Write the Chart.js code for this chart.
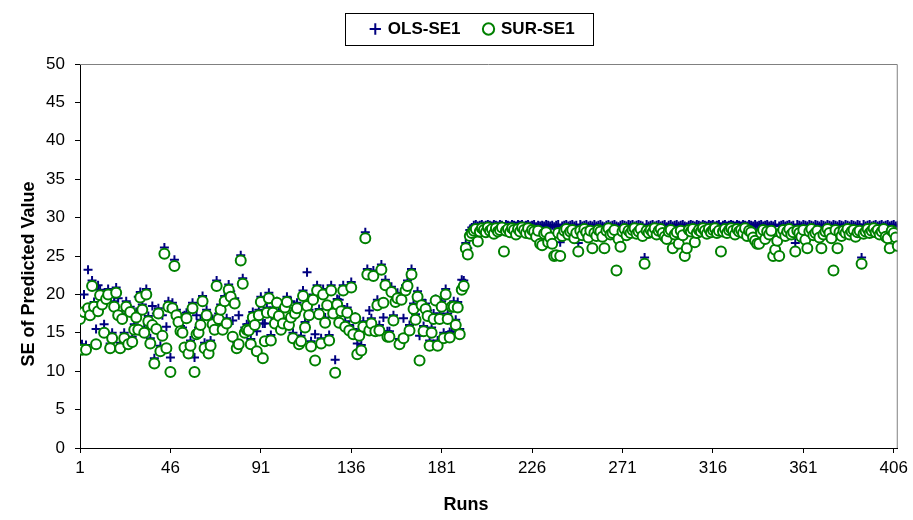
<!DOCTYPE html>
<html>
<head>
<meta charset="utf-8">
<script src="https://cdn.jsdelivr.net/npm/chart.js@4.4.0/dist/chart.umd.min.js"></script>
<style>
  html, body { margin: 0; padding: 0; background: #fff; }
  #wrap { width: 913px; height: 520px; }
</style>
</head>
<body>
<div id="wrap"><canvas id="seChart"></canvas></div>
<script>
const seriesNames = ['OLS-SE1', 'SUR-SE1'];
const runTicks = [1, 46, 91, 136, 181, 226, 271, 316, 361, 406];
const valueTicks = [0, 5, 10, 15, 20, 25, 30, 35, 40, 45, 50];
const xTitle = 'Runs';
const yTitle = 'SE of Predicted Value';

// SE per run, runs 1..408
const olsSE = [
  17.5, 13.5, 20.0, 13.4, 23.2, 18.0, 21.8, 19.0, 15.5, 21.2,
  20.6, 19.4, 16.1, 20.1, 20.7, 13.6, 15.0, 19.1, 20.9, 19.5,
  13.7, 17.5, 15.0, 19.1, 14.2, 18.4, 14.5, 16.1, 17.7, 19.7,
  20.3, 18.7, 15.7, 20.7, 17.2, 14.3, 18.5, 11.7, 17.5, 18.2,
  13.3, 17.3, 26.1, 15.8, 19.1, 11.8, 18.9, 24.5, 18.0, 17.1,
  15.9, 15.7, 17.3, 17.6, 13.0, 14.0, 18.9, 11.8, 17.3, 15.7,
  16.7, 19.8, 13.7, 18.0, 13.0, 14.0, 16.8, 16.1, 21.8, 17.5,
  18.7, 16.1, 19.8, 16.9, 21.3, 20.4, 16.6, 19.5, 13.7, 17.3,
  25.1, 22.1, 15.7, 16.1, 16.0, 14.2, 17.7, 16.7, 15.2, 18.0,
  19.7, 16.2, 16.2, 18.3, 20.2, 14.7, 18.3, 16.9, 19.1, 17.9,
  16.1, 16.9, 19.0, 19.7, 16.7, 19.1, 15.0, 18.2, 18.9, 14.2,
  14.6, 20.5, 16.4, 22.9, 18.0, 13.9, 20.0, 14.8, 21.2, 18.1,
  14.3, 20.7, 17.0, 18.6, 14.7, 21.2, 18.2, 11.5, 19.4, 19.3,
  18.5, 21.2, 16.5, 18.3, 16.0, 21.6, 15.5, 17.1, 13.6, 15.3,
  13.4, 16.5, 28.1, 23.3, 17.9, 16.9, 23.1, 15.9, 19.3, 16.0,
  23.9, 17.0, 21.9, 15.2, 15.2, 21.0, 17.3, 19.7, 20.2, 14.2,
  20.0, 16.9, 21.2, 21.8, 16.0, 23.3, 18.8, 17.4, 20.4, 14.6,
  19.3, 15.9, 18.8, 17.9, 14.0, 15.7, 17.5, 19.4, 14.0, 17.5,
  19.1, 15.0, 20.7, 17.5, 15.1, 15.2, 19.1, 16.7, 19.0, 15.5,
  21.9, 21.8, 26.7, 26.0,
  28.4, 28.7, 29.0, 29.1, 28.9, 29.0, 29.1, 28.9, 29.0, 29.1,
  29.0, 28.9, 29.1, 29.0, 28.9, 29.1, 29.0, 28.8, 29.1, 29.0,
  28.9, 29.1, 29.0, 28.9, 29.1, 29.0, 29.1, 28.9, 29.0, 29.1,
  28.9, 29.0, 29.1, 28.8, 29.0, 28.9, 29.0, 28.9, 29.1, 29.0,
  28.9, 29.0, 28.8, 29.0, 29.1, 26.8, 28.9, 29.0, 29.1, 28.9,
  29.0, 29.1, 28.9, 29.0, 26.7, 29.1, 28.9, 29.0, 29.1, 28.9,
  29.0, 28.9, 29.1, 28.9, 29.0, 29.1, 28.9, 28.8, 29.0, 29.1,
  28.9, 29.0, 29.1, 28.9, 28.8, 29.0, 29.1, 29.0, 28.9, 29.1,
  29.0, 29.1, 28.9, 29.0, 29.1, 29.0, 28.9, 24.8, 29.1, 28.9,
  29.0, 29.1, 28.9, 29.0, 29.1, 28.9, 29.0, 29.1, 28.8, 29.0,
  29.1, 28.9, 29.0, 29.1, 28.9, 29.0, 29.1, 28.9, 28.8, 29.0,
  29.1, 29.0, 28.9, 29.1, 29.0, 28.9, 29.1, 29.0, 28.9, 29.1,
  29.0, 29.1, 28.9, 29.0, 29.1, 28.8, 29.0, 29.1, 28.9, 29.0,
  29.1, 29.0, 28.9, 29.1, 29.0, 28.9, 29.1, 29.0, 28.9, 29.1,
  29.0, 28.9, 29.1, 28.9, 29.0, 29.1, 28.9, 29.0, 29.1, 28.9,
  29.0, 28.9, 29.1, 26.8, 28.9, 29.0, 29.1, 28.9, 29.0, 29.1,
  28.9, 29.0, 26.7, 29.1, 29.0, 28.9, 29.1, 29.0, 28.9, 29.1,
  29.0, 28.9, 29.1, 29.0, 28.9, 29.1, 29.0, 28.9, 29.1, 29.0,
  28.9, 29.1, 29.0, 28.9, 29.1, 29.0, 28.9, 29.1, 29.0, 28.9,
  29.1, 29.0, 28.9, 29.1, 29.0, 24.8, 29.1, 28.9, 29.0, 29.1,
  28.9, 29.0, 29.1, 28.9, 29.0, 29.1, 28.9, 29.0, 29.1, 28.9,
  29.0, 29.1, 28.9, 29.0
];

const surSE = [
  16.8, 12.8, 17.7, 12.8, 18.2, 17.3, 21.1, 18.4, 13.5, 17.8,
  19.9, 18.7, 15.0, 19.4, 20.0, 13.0, 14.3, 18.4, 20.2, 17.3,
  13.0, 16.8, 14.3, 18.4, 13.5, 17.7, 13.8, 15.4, 17.0, 15.4,
  19.6, 18.0, 15.0, 20.0, 16.5, 13.6, 16.0, 11.0, 15.5, 17.5,
  12.6, 14.6, 25.3, 13.0, 18.4, 9.9, 18.2, 23.7, 17.3, 16.4,
  15.2, 15.0, 13.1, 16.9, 12.3, 13.3, 18.2, 9.9, 14.8, 15.0,
  16.0, 19.1, 13.0, 17.3, 12.3, 13.3, 16.1, 15.4, 21.1, 16.8,
  18.0, 15.4, 19.1, 16.2, 20.6, 19.7, 14.5, 18.8, 13.0, 13.5,
  24.4, 21.4, 15.0, 15.4, 15.3, 13.5, 17.0, 16.0, 12.6, 17.3,
  19.0, 11.7, 13.9, 17.6, 19.5, 14.0, 17.6, 16.2, 18.9, 17.2,
  15.4, 16.2, 18.3, 19.0, 16.0, 17.0, 14.3, 17.5, 18.2, 13.5,
  13.9, 19.8, 15.7, 18.5, 17.3, 13.2, 19.3, 11.4, 20.5, 17.4,
  13.6, 20.0, 16.3, 18.6, 14.0, 20.5, 17.5, 9.8, 18.7, 16.3,
  17.8, 20.5, 15.8, 17.6, 15.3, 20.9, 14.8, 16.9, 12.2, 14.6,
  12.7, 15.8, 27.3, 22.6, 15.3, 16.2, 22.4, 15.2, 18.6, 15.3,
  23.2, 18.9, 21.2, 14.5, 14.5, 20.3, 16.6, 19.0, 19.5, 13.5,
  19.3, 14.3, 20.5, 21.1, 15.3, 22.6, 18.1, 16.7, 19.7, 11.4,
  18.6, 15.2, 18.1, 17.2, 13.3, 15.0, 16.8, 19.2, 13.3, 16.8,
  18.4, 14.3, 20.0, 16.8, 14.4, 18.4, 18.4, 16.0, 18.3, 14.8,
  20.6, 21.1, 26.0, 25.2,
  27.6, 28.0, 28.3, 28.5, 26.9, 28.2, 28.6, 28.4, 28.1, 28.7,
  28.3, 28.5, 27.9, 28.6, 28.2, 28.4, 28.7, 25.6, 28.3, 28.5,
  28.1, 28.6, 28.4, 27.8, 28.5, 28.2, 28.7, 28.4, 28.0, 28.6,
  27.9, 28.4, 28.2, 27.5, 28.3, 26.6, 26.4, 27.9, 28.1, 26.8,
  27.4, 26.6, 25.0, 25.1, 28.0, 25.0, 27.6, 28.3, 28.5, 27.8,
  28.2, 28.4, 27.3, 28.0, 25.6, 28.3, 27.7, 28.5, 28.1, 27.4,
  28.3, 26.0, 28.0, 27.6, 28.4, 28.2, 27.5, 26.0, 28.3, 28.6,
  27.8, 28.0, 28.4, 23.1, 27.2, 26.2, 28.2, 28.5, 27.7, 28.3,
  28.0, 28.4, 28.6, 27.9, 28.2, 28.5, 27.6, 24.0, 28.3, 28.0,
  28.4, 28.1, 28.6, 27.8, 28.3, 28.5, 28.0, 27.5, 27.2, 28.2,
  28.4, 26.0, 27.8, 28.1, 26.6, 28.3, 27.7, 25.0, 26.0, 28.4,
  28.2, 28.5, 26.8, 28.0, 28.4, 28.2, 28.6, 28.3, 27.9, 28.5,
  28.1, 28.4, 28.6, 28.0, 28.3, 25.6, 28.2, 28.5, 28.0, 28.4,
  28.6, 28.3, 27.8, 28.5, 28.2, 28.4, 28.0, 28.6, 27.6, 28.3,
  28.1, 27.4, 27.0, 26.6, 26.6, 28.0, 28.4, 27.2, 28.2, 27.8,
  28.3, 25.0, 25.8, 27.0, 25.0, 28.0, 28.4, 27.6, 28.2, 28.5,
  27.8, 28.1, 25.6, 28.3, 28.0, 27.5, 28.4, 27.1, 26.0, 28.2,
  28.5, 27.7, 28.0, 28.3, 27.4, 26.0, 27.8, 28.2, 28.5, 28.0,
  27.3, 23.1, 28.4, 26.0, 28.1, 27.6, 28.3, 28.0, 28.5, 27.8,
  28.2, 28.4, 27.5, 28.1, 28.3, 24.0, 27.9, 28.2, 28.5, 28.0,
  28.3, 28.6, 28.1, 28.4, 27.8, 28.2, 28.5, 27.5, 27.3, 26.0,
  28.3, 28.0, 27.4, 26.3
];

const toPoints = arr => arr.map((v, i) => ({ x: i + 1, y: v }));
const fontFamily = '"Liberation Sans", Arial, sans-serif';

// legend frame, plot frame and the two axis titles (placed like the original)
const chartDecor = {
  id: 'chartDecor',
  afterInit(chart) {
    const fit = chart.legend.fit;
    chart.legend.fit = function () {
      fit.call(this);
      this.height += 13;
    };
  },
  afterLayout(chart) {
    const lg = chart.legend;
    lg.left += 24; lg.right += 24;
    lg.top -= 3.5; lg.bottom -= 3.5;
  },
  afterDraw(chart) {
    const ctx = chart.ctx;
    const ca = chart.chartArea;
    ctx.save();
    const boxes = chart.legend.legendHitBoxes;
    if (boxes && boxes.length) {
      const a = boxes[0], b = boxes[boxes.length - 1];
      ctx.strokeStyle = '#000';
      ctx.lineWidth = 1;
      ctx.strokeRect(Math.round(a.left - 26) + 0.5, Math.round(a.top - 7.5) + 0.5,
        Math.round(b.left + b.width - a.left + 45), 32);
    }
    ctx.strokeStyle = '#808080';
    ctx.lineWidth = 1;
    ctx.beginPath();
    ctx.moveTo(ca.left, ca.top + 0.5);
    ctx.lineTo(ca.right - 0.5, ca.top + 0.5);
    ctx.lineTo(ca.right - 0.5, ca.bottom);
    ctx.stroke();

    ctx.fillStyle = '#000';
    ctx.font = 'bold 18px ' + fontFamily;
    ctx.textAlign = 'center';
    ctx.textBaseline = 'middle';
    ctx.fillText(xTitle, 466, 505);
    ctx.translate(29, 274);
    ctx.rotate(-Math.PI / 2);
    ctx.fillText(yTitle, 0, 0);
    ctx.restore();
  }
};

const config = {
  type: 'scatter',
  data: {
    datasets: [{
      label: seriesNames[0],
      data: toPoints(olsSE),
      order: 2,
      pointStyle: 'cross',
      pointRadius: 4.5,
      pointBorderWidth: 2,
      borderColor: '#000080',
      backgroundColor: '#000080'
    }, {
      label: seriesNames[1],
      data: toPoints(surSE),
      order: 1,
      pointStyle: 'circle',
      pointRadius: 5,
      pointBorderWidth: 2,
      borderColor: '#008000',
      backgroundColor: '#ffffff'
    }]
  },
  options: {
    responsive: true,
    maintainAspectRatio: false,
    animation: false,
    layout: { padding: { top: 0, right: 15, bottom: 0, left: 0 } },
    plugins: {
      tooltip: { enabled: false },
      legend: {
        position: 'top',
        labels: {
          usePointStyle: true,
          boxWidth: 8,
          boxHeight: 8,
          padding: 24,
          color: '#000',
          sort: (a, b) => a.datasetIndex - b.datasetIndex,
          font: { family: fontFamily, size: 17, weight: 'bold' }
        }
      }
    },
    scales: {
      x: {
        type: 'linear',
        min: 1,
        max: 408,
        afterBuildTicks: scale => { scale.ticks = runTicks.map(v => ({ value: v })); },
        afterFit: scale => { scale.height = 72; },
        grid: { drawOnChartArea: false, drawTicks: true, tickLength: 5, tickColor: '#000' },
        border: { display: true, color: '#000', width: 1 },
        ticks: { color: '#000', padding: 5, maxRotation: 0, autoSkip: false,
                 font: { family: fontFamily, size: 17 } },
        title: { display: false, text: xTitle }
      },
      y: {
        min: 0,
        max: 50,
        afterBuildTicks: scale => { scale.ticks = valueTicks.map(v => ({ value: v })); },
        afterFit: scale => { scale.width = 80; },
        grid: { drawOnChartArea: false, drawTicks: true, tickLength: 5, tickColor: '#000' },
        border: { display: true, color: '#000', width: 1 },
        ticks: { color: '#000', padding: 10, font: { family: fontFamily, size: 17 } },
        title: { display: false, text: yTitle }
      }
    }
  },
  plugins: [chartDecor]
};

const seChart = new Chart(document.getElementById('seChart'), config);
</script>
</body>
</html>
